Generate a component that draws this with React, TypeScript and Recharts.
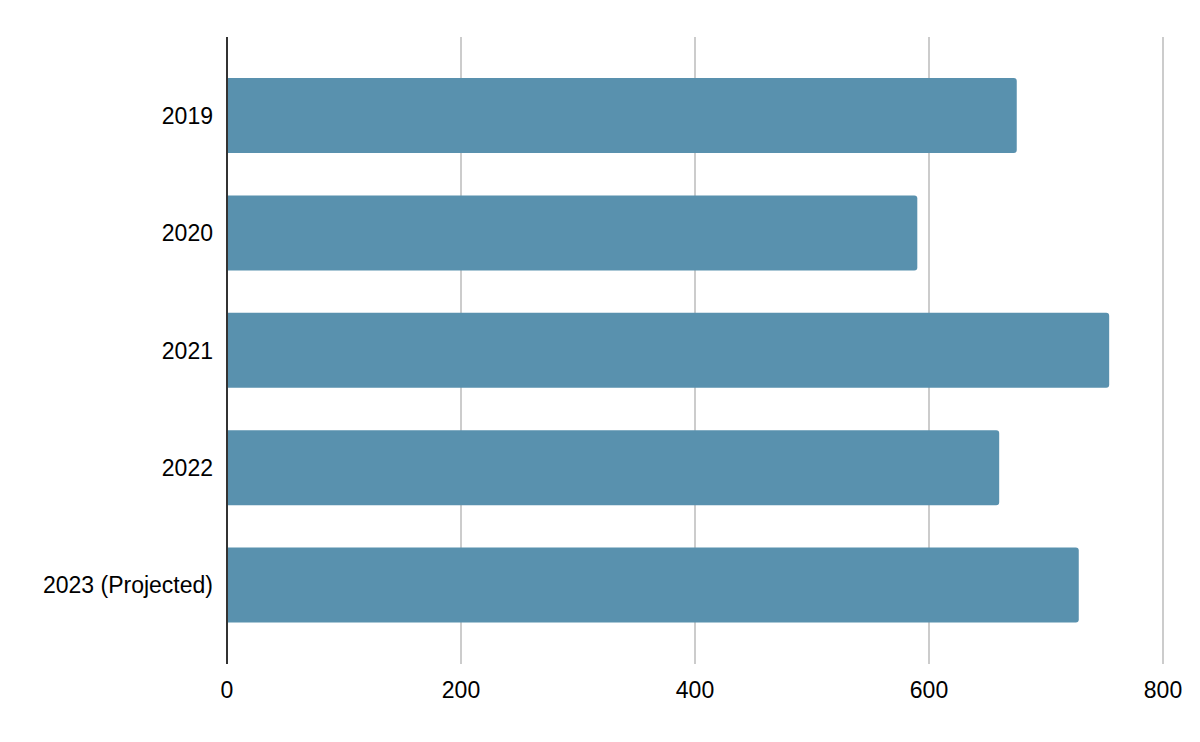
import { BarChart, Bar, XAxis, YAxis, CartesianGrid } from 'recharts';

const years = ['2019', '2020', '2021', '2022', '2023 (Projected)'];
const values = [675, 590, 754, 660, 728];
const xTicks = [0, 200, 400, 600, 800];

const data = years.map((year, i) => ({ year, value: values[i] }));

const tickFont = { fill: '#000', fontSize: 23, fontFamily: 'Liberation Sans, Arial, sans-serif' };

export default function App() {
  return (
    <div style={{ position: 'absolute', top: 0, left: 0, width: 1200, height: 742, background: '#fff' }}>
      <BarChart
        width={1200}
        height={742}
        data={data}
        layout="vertical"
        margin={{ top: 37, right: 37, bottom: 0, left: 0 }}
      >
        <CartesianGrid horizontal={false} stroke="#cccccc" strokeWidth={2} />
        <XAxis
          type="number"
          domain={[0, 800]}
          ticks={xTicks}
          axisLine={false}
          tickLine={false}
          height={78}
          tickMargin={12}
          tick={tickFont}
        />
        <YAxis
          type="category"
          dataKey="year"
          width={227}
          padding={{ top: 20, bottom: 20 }}
          axisLine={{ stroke: '#333', strokeWidth: 2 }}
          tickLine={false}
          tickMargin={8}
          tick={tickFont}
        />
        <Bar dataKey="value" fill="#5991ae" barSize={75} radius={[0, 3, 3, 0]} isAnimationActive={false} />
      </BarChart>
    </div>
  );
}
